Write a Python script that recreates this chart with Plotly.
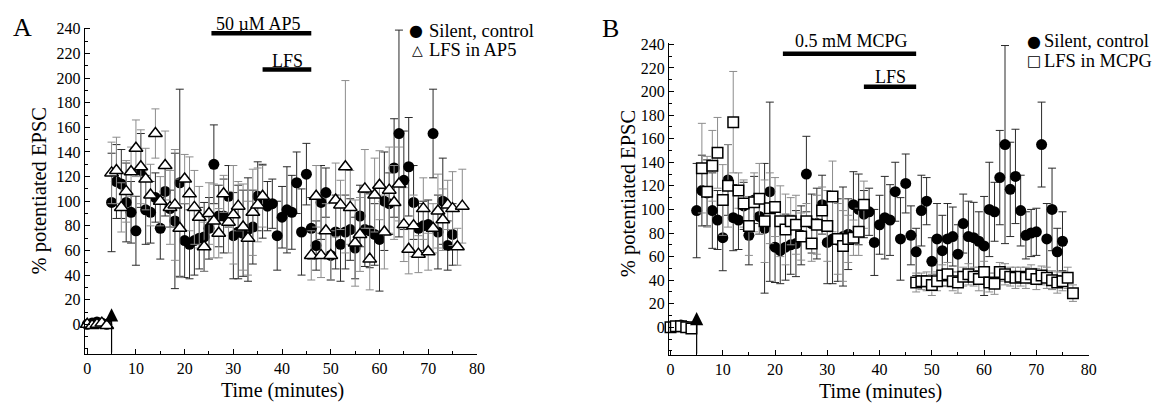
import plotly.graph_objects as go

# ---------------- data ----------------
base_t = [0, 1, 2, 3, 4]
ctrl_base = [0, 1, 2, 1, 0]
ap5_base = [0, -1, 0, 1, -1]
mcpg_base = [0, 1, 1, 0, -1]
base_err = [2, 2, 2, 2, 2]

ctrl_t = list(range(5, 76))
ctrl_v = [99, 116, 114, 99, 91, 76, 125, 93, 91, 103,
          78, 108, 94, 84, 115, 68, 65, 68, 70, 71,
          78, 130, 88, 88, 104, 72, 75, 74, 77, 79,
          104, 100, 96, 98, 72, 87, 93, 91, 115, 75,
          122, 78, 64, 99, 107, 56, 75, 65, 75, 77,
          62, 88, 77, 76, 73, 69, 100, 98, 127, 155,
          117, 128, 99, 78, 80, 81, 155, 75, 100, 64,
          73]
ctrl_err = [40, 30, 28, 32, 25, 28, 30, 28, 25, 20,
            25, 20, 15, 55, 76, 30, 28, 28, 25, 28,
            25, 32, 25, 30, 25, 35, 38, 35, 42, 30,
            28, 30, 20, 20, 28, 25, 35, 30, 25, 35,
            25, 25, 20, 30, 20, 20, 30, 30, 30, 25,
            25, 25, 30, 30, 25, 42, 40, 25, 40, 84,
            40, 40, 30, 20, 20, 20, 36, 30, 35, 20,
            25]

ap5_t = list(range(5, 37)) + list(range(46, 78))
ap5_v = [123, 125, 95, 108, 124, 143, 128, 118, 105, 155,
         100, 129, 95, 97, 78, 118, 106, 95, 87, 63,
         90, 84, 74, 106, 83, 89, 96, 79, 70, 91,
         97, 104,
         56, 104, 56, 76, 56, 101, 97, 128, 95, 66,
         73, 110, 53, 105, 113, 75, 109, 99, 114, 81,
         61, 80, 57, 94, 59, 78, 92, 85, 97, 94,
         63, 96]
ap5_err = [25, 27, 20, 25, 20, 23, 30, 25, 25, 20,
           20, 28, 30, 45, 40, 20, 30, 30, 25, 20,
           25, 30, 20, 15, 25, 40, 20, 35, 30, 35,
           30, 25,
           20, 25, 18, 22, 20, 30, 20, 70, 30, 35,
           30, 32, 25, 30, 28, 30, 35, 30, 30, 30,
           20, 25, 15, 25, 15, 20, 30, 25, 20, 30,
           15, 30]

mcpg_t = list(range(6, 38)) + list(range(47, 78))
mcpg_v = [135, 115, 137, 148, 108, 120, 174, 116, 105, 86,
          106, 109, 90, 101, 102, 90, 83, 90, 87, 77,
          90, 71, 87, 99, 86, 111, 75, 69, 75, 76,
          81, 104,
          38, 39, 39, 36, 39, 44, 45, 39, 38, 43,
          45, 43, 41, 47, 38, 37, 47, 45, 43, 42,
          43, 42, 45, 41, 44, 42, 40, 38, 39, 42,
          29]
mcpg_err = [38, 30, 30, 30, 30, 35, 43, 15, 20, 25,
            25, 30, 35, 30, 25, 30, 30, 20, 25, 20,
            15, 15, 25, 20, 30, 30, 30, 30, 20, 15,
            20, 20,
            8, 7, 8, 9, 8, 9, 10, 8, 9, 8,
            9, 8, 10, 9, 8, 9, 8, 9, 8, 9,
            8, 9, 8, 9, 8, 9, 8, 9, 8, 9,
            7]

stim_time = 5
ap5_period = [25.5, 46]
lfs_a_period = [36, 46]
mcpg_period = [21.5, 47]
lfs_b_period = [37, 47]

x_ticks = list(range(0, 81, 10))
y_ticks = list(range(0, 241, 20))

# ---------------- figure ----------------
W, H = 1169, 404
SERIF = "Liberation Serif"
fig = go.Figure()


def px_x(p):
    return p / W


def px_y(p):
    return 1 - p / H


def add_series(t, v, e, xa, ya, symbol, fill, ecolor, size, lw):
    fig.add_trace(go.Scatter(
        x=t, y=v, mode="markers", xaxis=xa, yaxis=ya, showlegend=False,
        marker=dict(symbol=symbol, size=size, color=fill,
                    line=dict(color="black", width=lw)),
        error_y=dict(type="data", array=e, visible=True, color=ecolor,
                     thickness=1, width=4),
        cliponaxis=False,
    ))


ctrl_all_t = base_t + ctrl_t
ctrl_all_v = ctrl_base + ctrl_v
ctrl_all_e = base_err + ctrl_err

# Panel A
add_series(ctrl_all_t, ctrl_all_v, ctrl_all_e, "x", "y", "circle", "black", "#2a2a2a", 11, 0)
add_series(base_t + ap5_t, ap5_base + ap5_v, base_err + ap5_err, "x", "y",
           "triangle-up", "white", "#8c8c8c", 12, 1.5)
# Panel B
add_series(ctrl_all_t, ctrl_all_v, ctrl_all_e, "x2", "y2", "circle", "black", "#2a2a2a", 11, 0)
add_series(base_t + mcpg_t, mcpg_base + mcpg_v, base_err + mcpg_err, "x2", "y2",
           "square", "white", "#8c8c8c", 10.5, 1.5)

axis_font = dict(family=SERIF, size=16, color="black")
xcommon = dict(showline=True, linecolor="black", linewidth=1.2, ticks="inside",
               ticklen=5, tickcolor="black", tickwidth=1, showgrid=False,
               zeroline=False, tickfont=axis_font, tickmode="array",
               tickvals=x_ticks,
               minor=dict(tickmode="linear", tick0=0, dtick=5, ticks="inside",
                          ticklen=3, tickcolor="black", showgrid=False))
ycommon = dict(showline=True, linecolor="black", linewidth=1.2, ticks="inside",
               ticklen=5, tickcolor="black", tickwidth=1, showgrid=False,
               zeroline=False, tickfont=axis_font, tickmode="array",
               tickvals=y_ticks,
               minor=dict(tickmode="linear", tick0=0, dtick=10, ticks="inside",
                          ticklen=3, tickcolor="black", showgrid=False))

fig.update_layout(
    width=W, height=H, margin=dict(l=0, r=0, t=0, b=0),
    paper_bgcolor="white", plot_bgcolor="white",
    xaxis=dict(xcommon, domain=[px_x(83.5), px_x(479)], range=[-0.5, 80], anchor="y"),
    yaxis=dict(ycommon, domain=[px_y(353), px_y(21)], range=[-24, 241], anchor="x"),
    xaxis2=dict(xcommon, domain=[px_x(672.7), px_x(1096)], range=[-0.3, 80], anchor="y2"),
    yaxis2=dict(ycommon, domain=[px_y(354.3), px_y(36.8)], range=[-23.6, 241], anchor="x2"),
)

# stimulation arrows
for xa, ya, ybot in [("x", "y", -24), ("x2", "y2", -23.6)]:
    fig.add_annotation(x=stim_time, y=13, ax=stim_time, ay=ybot, xref=xa, yref=ya,
                       axref=xa, ayref=ya, showarrow=True, arrowhead=2,
                       arrowsize=2.2, arrowwidth=1.2, arrowcolor="black", text="")

# treatment bars
def bar(period, yval, xa, ya):
    fig.add_shape(type="line", x0=period[0], x1=period[1], y0=yval, y1=yval,
                  xref=xa, yref=ya, line=dict(color="black", width=4.5))

bar(ap5_period, 236.5, "x", "y")
bar(lfs_a_period, 207, "x", "y")
bar(mcpg_period, 232, "x2", "y2")
bar(lfs_b_period, 204, "x2", "y2")


def text(s, x, y, size, xanchor="center", angle=0, font=SERIF):
    fig.add_annotation(text=s, x=px_x(x), y=px_y(y), xref="paper", yref="paper",
                       showarrow=False, xanchor=xanchor, yanchor="middle",
                       textangle=angle, font=dict(family=font, size=size, color="black"))

text("50 µM AP5", 258, 17, 18)
text("LFS", 288, 55, 18)
text("0.5 mM MCPG", 857, 35, 18)
text("LFS", 896, 71, 18)

text("A", 21, 21, 26)
text("B", 614, 22, 26)

text("% potentiated EPSC", 38, 187, 20.5, angle=-90)
text("% potentiated EPSC", 632, 190, 20.5, angle=-90)
text("Time (minutes)", 283, 390, 20)
text("Time (minutes)", 886, 391, 20)

# legends
text("●", 418, 24, 16, font="DejaVu Sans")
text("Silent, control", 429, 24, 18.5, xanchor="left")
text("△", 419, 44, 14, font="DejaVu Sans")
text("LFS in AP5", 429, 44, 18.5, xanchor="left")
text("●", 1041, 35, 16, font="DejaVu Sans")
text("Silent, control", 1049, 35, 18.5, xanchor="left")
text("□", 1041, 55, 15, font="DejaVu Sans")
text("LFS in MCPG", 1049, 55, 18.5, xanchor="left")

fig.write_html("out.html", config={"displayModeBar": False},
               post_script="document.body.style.margin='0px';document.body.style.overflow='hidden';")
